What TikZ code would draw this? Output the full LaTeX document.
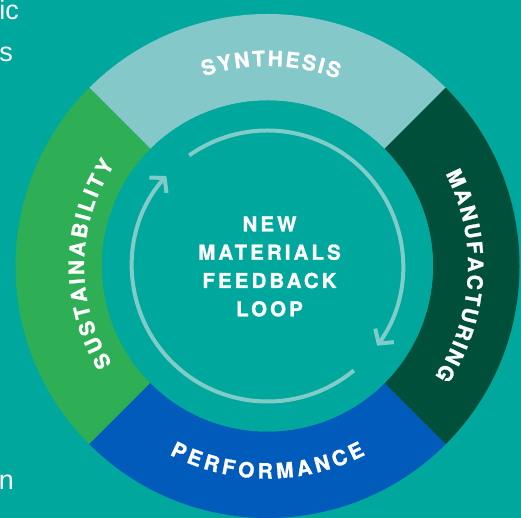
\documentclass[tikz,border=0pt]{standalone}
\usepackage{fontspec}
\setmainfont{Liberation Sans}
\newfontfamily\lblfont{texgyreheros-bold}[Extension=.otf, LetterSpace=15, FakeBold=1.2]
\newfontfamily\ringfont{texgyreheros-bold}[Extension=.otf, FakeBold=1.2]
\usetikzlibrary{arrows.meta}
\definecolor{bg}{HTML}{00A79D}
\definecolor{synth}{HTML}{85C8C9}
\definecolor{manuf}{HTML}{004F3B}
\definecolor{perf}{HTML}{005BBB}
\definecolor{sust}{HTML}{2EAF55}
\definecolor{loopc}{HTML}{80CCC8}
\tikzset{
  loopline/.style={draw=loopc, line width=4pt, line cap=butt, -{Straight Barb[length=10pt,width=23pt]}},
  sidetext/.style={text=white, font=\fontsize{27}{32}\selectfont, inner sep=0pt},
  letterbox/.style={anchor=base, inner sep=0pt, text=white}
}
% #1 name prefix, #2 baseline radius, #3 centre angle,
% #4 direction (1: clockwise, tops out; -1: counter-clockwise, tops in),
% #5 gap (pt), #6 font size (pt), #7 list letter/width(em)
\newcommand\arclabel[7]{%
  \gdef\arctotal{0}%
  \foreach \c/\w in {#7}{\pgfmathparse{\arctotal+\w*#6+#5}\xdef\arctotal{\pgfmathresult}}%
  \pgfmathparse{-0.5*(\arctotal-#5)}\xdef\arcposn{\pgfmathresult}%
  \foreach \c/\w [count=\i] in {#7}{%
    \pgfmathsetmacro\ang{#3-(#4)*(\arcposn+0.5*\w*#6)/(#2)*180/pi}%
    \pgfmathsetmacro\rotang{\ang-(#4)*90}%
    \node[letterbox, font=\ringfont\fontsize{#6}{#6}\selectfont, rotate=\rotang] (#1\i) at (\ang:#2) {\c};
    \pgfmathparse{\arcposn+\w*#6+#5}\xdef\arcposn{\pgfmathresult}%
  }%
}
\begin{document}
\begin{tikzpicture}[x=1pt,y=1pt]
\useasboundingbox (-267.5,-252) rectangle (253.5,266);
\fill[bg] (-267.5,-252) rectangle (253.5,266);
% ring segments
\fill[synth] (45:252) arc[start angle=45,end angle=135,radius=252] -- (135:165.5) arc[start angle=135,end angle=45,radius=165.5] -- cycle;
\fill[sust] (135:252) arc[start angle=135,end angle=225,radius=252] -- (225:165.5) arc[start angle=225,end angle=135,radius=165.5] -- cycle;
\fill[perf] (225:252) arc[start angle=225,end angle=315,radius=252] -- (315:165.5) arc[start angle=315,end angle=225,radius=165.5] -- cycle;
\fill[manuf] (-45:252) arc[start angle=-45,end angle=45,radius=252] -- (45:165.5) arc[start angle=45,end angle=-45,radius=165.5] -- cycle;
\fill[bg] (0,0) circle[radius=165.5];
% ring labels
\arclabel{syn}{200}{89}{1}{2.2}{21}{S/.667,Y/.667,N/.722,T/.611,H/.722,E/.667,S/.667,I/.278,S/.667}
\arclabel{man}{200.5}{-3}{1}{2.2}{21}{M/.833,A/.722,N/.722,U/.722,F/.611,A/.722,C/.722,T/.611,U/.722,R/.722,I/.278,N/.722,G/.778}
\arclabel{per}{212.5}{-90}{-1}{3.9}{21}{P/.667,E/.667,R/.722,F/.611,O/.778,R/.722,M/.833,A/.722,N/.722,C/.722,E/.667}
\arclabel{sus}{183.5}{179.3}{1}{2.8}{21}{S/.667,U/.722,S/.667,T/.611,A/.722,I/.278,N/.722,A/.722,B/.722,I/.278,L/.611,I/.278,T/.611,Y/.667}
% feedback loop arrows
\draw[loopline] (125.3:135.5) arc[start angle=125.3,end angle=-36,radius=135.5];
\draw[loopline] (-50.4:135.5) arc[start angle=-50.4,end angle=-221.7,radius=135.5];
% centre title
\node[align=center, text=white, inner sep=0pt, font=\lblfont\fontsize{20.5}{28.3}\selectfont] (title) at (2,-0.5) {NEW\\MATERIALS\\FEEDBACK\\LOOP};
% cropped body text on the left
\node[sidetext, anchor=base east] (t1) at (-248.5,246) {ic};
\node[sidetext, anchor=base east] (t2) at (-254.5,204) {s};
\node[sidetext, anchor=base east] (t3) at (-253.5,-223) {n};
\end{tikzpicture}
\end{document}
